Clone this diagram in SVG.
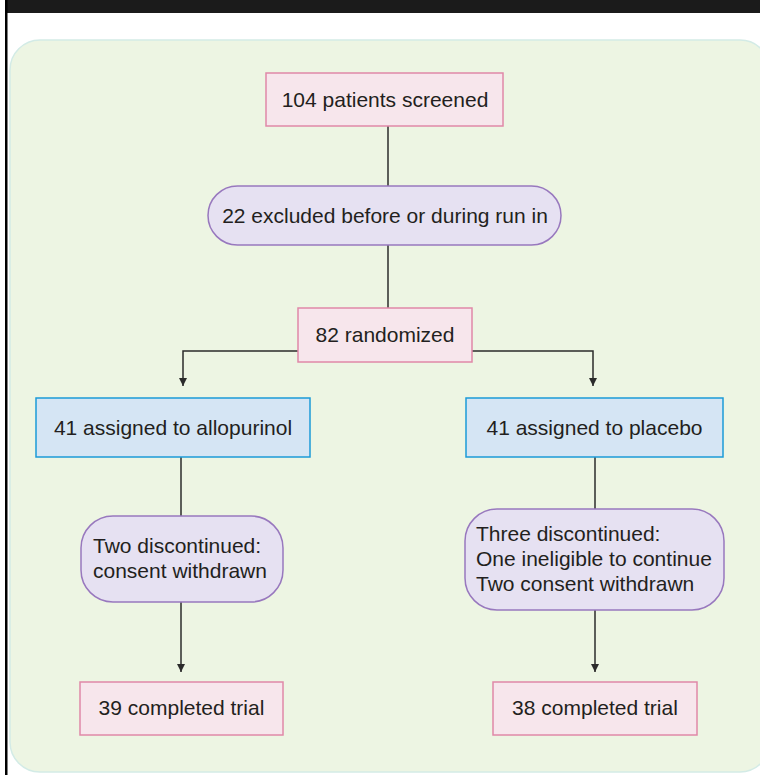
<svg xmlns="http://www.w3.org/2000/svg" width="760" height="775" viewBox="0 0 760 775">
<defs>
<style>
.t{font-family:"Liberation Sans",Arial,sans-serif;font-size:21px;fill:#231f20}
.c{text-anchor:middle}
.pink{fill:#f7e6ec;stroke:#e088a8;stroke-width:1.5}
.purple{fill:#e6e1f2;stroke:#9878be;stroke-width:1.5}
.blue{fill:#d5e5f4;stroke:#1b9ad8;stroke-width:1.5}
.ln{fill:none;stroke:#2b2b2b;stroke-width:1.5}
</style>
<marker id="ah" viewBox="0 0 10 10" refX="10" refY="5" markerWidth="8" markerHeight="8" markerUnits="userSpaceOnUse" orient="auto">
<path d="M0,0 L10,5 L0,10 Z" fill="#2b2b2b"/>
</marker>
</defs>
<rect x="0" y="0" width="760" height="775" fill="#ffffff"/>
<rect x="7" y="0" width="753" height="13" fill="#1b1b1b"/>
<rect x="5" y="0" width="2.5" height="775" fill="#000000"/>
<rect x="10" y="40" width="760" height="732" rx="30" ry="30" fill="#edf5e3" stroke="#d3ebe6" stroke-width="1.5"/>
<g id="connectors">
<line class="ln" x1="388" y1="126" x2="388" y2="186"/>
<line class="ln" x1="388" y1="245" x2="388" y2="308"/>
<polyline class="ln" points="298,351 183,351 183,386" marker-end="url(#ah)"/>
<polyline class="ln" points="472,351 593,351 593,386" marker-end="url(#ah)"/>
<line class="ln" x1="181" y1="457" x2="181" y2="516"/>
<line class="ln" x1="181" y1="602" x2="181" y2="672" marker-end="url(#ah)"/>
<line class="ln" x1="595" y1="457" x2="595" y2="509"/>
<line class="ln" x1="595" y1="610" x2="595" y2="672" marker-end="url(#ah)"/>
</g>
<g id="screened">
<rect class="pink" x="266" y="73" width="237" height="53"/>
<text class="t c" x="385" y="107">104 patients screened</text>
</g>
<g id="excluded">
<rect class="purple" x="208" y="186" width="353" height="59" rx="29.5" ry="29.5"/>
<text class="t c" x="385" y="223">22 excluded before or during run in</text>
</g>
<g id="randomized">
<rect class="pink" x="298" y="308" width="174" height="54"/>
<text class="t c" x="385" y="342">82 randomized</text>
</g>
<g id="allopurinol">
<rect class="blue" x="36" y="398" width="274" height="59"/>
<text class="t c" x="173" y="435">41 assigned to allopurinol</text>
</g>
<g id="placebo">
<rect class="blue" x="466" y="398" width="257" height="59"/>
<text class="t c" x="594.5" y="435">41 assigned to placebo</text>
</g>
<g id="discontinued-left">
<rect class="purple" x="81" y="516" width="202" height="86" rx="32" ry="32"/>
<text class="t" x="93" y="553">Two discontinued:</text>
<text class="t" x="93" y="578">consent withdrawn</text>
</g>
<g id="discontinued-right">
<rect class="purple" x="465" y="509" width="259" height="101" rx="32" ry="32"/>
<text class="t" x="476" y="541">Three discontinued:</text>
<text class="t" x="476" y="566">One ineligible to continue</text>
<text class="t" x="476" y="591">Two consent withdrawn</text>
</g>
<g id="completed-left">
<rect class="pink" x="80" y="682" width="203" height="53"/>
<text class="t c" x="181.5" y="715">39 completed trial</text>
</g>
<g id="completed-right">
<rect class="pink" x="493" y="682" width="204" height="53"/>
<text class="t c" x="595" y="715">38 completed trial</text>
</g>
</svg>
